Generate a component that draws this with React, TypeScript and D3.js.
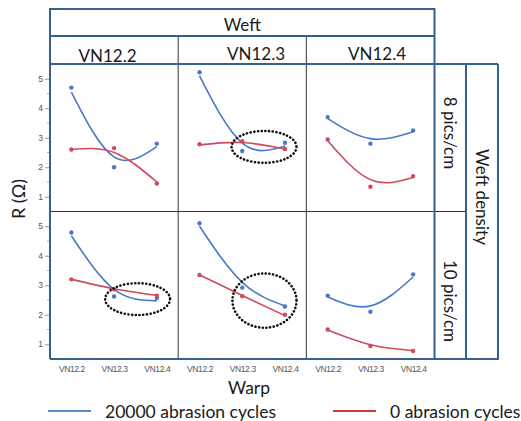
import { useEffect, useRef } from 'react';
import * as d3 from 'd3';

const warp = ['VN12.2', 'VN12.3', 'VN12.4'];
const weftCols = ['VN12.2', 'VN12.3', 'VN12.4'];
const densityRows = ['8 pics/cm', '10 pics/cm'];
const yTicks = [1, 2, 3, 4, 5];
const yMinor = [1.5, 2.5, 3.5, 4.5];

// means (dots) and fitted curve values, [row][col][warp]
const blueMean = [
  [[4.7, 2.0, 2.8], [5.22, 2.55, 2.83], [3.7, 2.8, 3.25]],
  [[4.79, 2.62, 2.57], [5.1, 2.92, 2.28], [2.65, 2.1, 3.37]],
];
const blueFit = [
  [[4.55, 2.35, 2.7], [5.1, 2.82, 2.72], [3.65, 2.97, 3.2]],
  [[4.68, 2.86, 2.47], [5.0, 3.1, 2.3], [2.6, 2.3, 3.28]],
];
const redMean = [
  [[2.6, 2.65, 1.45], [2.78, 2.88, 2.62], [2.94, 1.34, 1.7]],
  [[3.2, 2.86, 2.65], [3.35, 2.63, 2.0], [1.5, 0.94, 0.77]],
];
const redFit = [
  [[2.6, 2.5, 1.5], [2.76, 2.84, 2.62], [2.9, 1.58, 1.65]],
  [[3.2, 2.88, 2.65], [3.35, 2.65, 1.97], [1.48, 0.98, 0.78]],
];

// dotted highlight ellipses: panel, centre (warp index, value), radii (index, value)
const ellipses = [
  { row: 0, col: 1, cx: 1.51, cy: 2.69, rx: 0.76, ry: 0.54 },
  { row: 1, col: 0, cx: 1.55, cy: 2.53, rx: 0.76, ry: 0.54 },
  { row: 1, col: 1, cx: 1.52, cy: 2.48, rx: 0.75, ry: 0.92 },
];

const seriesLabels = ['20000 abrasion cycles', '0 abrasion cycles'];

const BLUE = '#4a78c6';
const RED = '#cf4a5c';
const FRAME = '#35608f';
const FONT = 'Lato, "Open Sans", sans-serif';

export default function App() {
  const svgRef = useRef<SVGSVGElement>(null);

  useEffect(() => {
    if (!svgRef.current) return;
    const svg = d3.select(svgRef.current);
    svg.selectAll('*').remove();

    const left = 50;
    const right = 434.5;
    const top = 9;
    const headY = 36;
    const panelTop = 64;
    const rowH = 147.5;
    const colW = (right - left) / 3;
    const bottom = panelTop + rowH * 2;
    const stripMid = 466;
    const stripRight = 498;

    const x = d3.scalePoint().domain(warp).range([0, colW]).padding(0.5);
    const xi = d3.scaleLinear().domain([0, 2]).range([x(warp[0])!, x(warp[2])!]);
    const y = d3.scaleLinear().domain([0.5, 5.5]).range([rowH, 0]);
    const line = d3
      .line<number>()
      .x((_, i) => x(warp[i])!)
      .y((d) => y(d))
      .curve(d3.curveNatural);

    // panels
    densityRows.forEach((_, r) => {
      weftCols.forEach((__, c) => {
        const g = svg
          .append('g')
          .attr('transform', `translate(${left + c * colW},${panelTop + r * rowH})`);

        const series = [
          { mean: blueMean[r][c], fit: blueFit[r][c], color: BLUE },
          { mean: redMean[r][c], fit: redFit[r][c], color: RED },
        ];
        series.forEach((s) => {
          g.append('path')
            .attr('d', line(s.fit))
            .attr('fill', 'none')
            .attr('stroke', s.color)
            .attr('stroke-width', 1.6);
          g.selectAll(null)
            .data(s.mean)
            .join('circle')
            .attr('cx', (_, i) => x(warp[i])!)
            .attr('cy', (d) => y(d))
            .attr('r', 2.2)
            .attr('fill', s.color);
        });

        ellipses
          .filter((e) => e.row === r && e.col === c)
          .forEach((e) => {
            g.append('ellipse')
              .attr('cx', xi(e.cx))
              .attr('cy', y(e.cy))
              .attr('rx', xi(e.rx) - xi(0))
              .attr('ry', y(0) - y(e.ry))
              .attr('fill', 'none')
              .attr('stroke', '#111')
              .attr('stroke-width', 2.6)
              .attr('stroke-linecap', 'round')
              .attr('stroke-dasharray', '0.1 3.6');
          });

        // x tick labels on the bottom row
        if (r === 1) {
          g.append('g')
            .attr('transform', `translate(0,${rowH})`)
            .call(d3.axisBottom(x).tickSize(0).tickPadding(7))
            .call((a) => a.select('.domain').remove())
            .selectAll('text')
            .attr('fill', '#555')
            .attr('font-size', 8.5)
            .attr('font-family', '"Liberation Sans", sans-serif')
            .attr('letter-spacing', -0.4);
        }
      });

      // y axis for the row
      const ya = svg.append('g').attr('transform', `translate(${left - 1},${panelTop + r * rowH})`);
      ya.call(
        d3.axisLeft(y).tickValues(yTicks).tickFormat(d3.format('d')).tickSize(4).tickPadding(2)
      )
        .call((a) => a.select('.domain').remove())
        .call((a) => a.selectAll('line').attr('stroke', '#999'))
        .selectAll('text')
        .attr('fill', '#555')
        .attr('font-size', 8.5)
        .attr('font-family', '"Liberation Sans", sans-serif');
      ya.selectAll('line.minor')
        .data(yMinor)
        .join('line')
        .attr('class', 'minor')
        .attr('x1', -2)
        .attr('x2', 0)
        .attr('y1', (d) => y(d))
        .attr('y2', (d) => y(d))
        .attr('stroke', '#aaa');
    });

    // thin inner dividers
    const thin = svg.append('g').attr('stroke', '#333').attr('stroke-width', 1);
    [1, 2].forEach((i) => {
      thin.append('line')
        .attr('x1', left + i * colW).attr('x2', left + i * colW)
        .attr('y1', headY).attr('y2', bottom);
    });
    thin.append('line')
      .attr('x1', left).attr('x2', stripMid)
      .attr('y1', panelTop + rowH).attr('y2', panelTop + rowH);

    // frame
    const frame = svg.append('g').attr('stroke', FRAME).attr('stroke-width', 2).attr('fill', 'none');
    frame.append('path').attr('d', `M${left},${bottom}V${top}H${right}V${bottom}`);
    frame.append('line').attr('x1', left).attr('x2', right).attr('y1', headY).attr('y2', headY);
    frame.append('line').attr('x1', left).attr('x2', stripRight).attr('y1', panelTop).attr('y2', panelTop);
    frame.append('path').attr('d', `M${stripRight},${panelTop}V${bottom}H${left}`);
    frame.append('line').attr('x1', stripMid).attr('x2', stripMid).attr('y1', panelTop).attr('y2', bottom);

    const text = (tx: number, ty: number, s: string, size: number, rot = 0) =>
      svg
        .append('text')
        .attr('transform', `translate(${tx},${ty}) rotate(${rot})`)
        .attr('text-anchor', 'middle')
        .attr('dominant-baseline', 'central')
        .attr('font-family', FONT)
        .attr('font-size', size)
        .attr('fill', '#1a1a1a')
        .text(s);

    text((left + right) / 2, 24, 'Weft', 17);
    const headX = [107.5, 256, 377];
    const headYs = [55, 53.5, 53.5];
    weftCols.forEach((w, i) => text(headX[i], headYs[i], w, 17));

    const stripX = (right + stripMid) / 2;
    text(stripX, 133, densityRows[0], 17, 90);
    text(stripX, 301, densityRows[1], 17, 90);
    text((stripMid + stripRight) / 2, 197, 'Weft density', 17, 90);

    text(18, 199, 'R (Ω)', 18, -90);
    text(249, 387, 'Warp', 17.5);

    // legend
    const legend = [
      { x: 48, color: '#5a8bcb', label: seriesLabels[0] },
      { x: 333, color: '#d03a3a', label: seriesLabels[1] },
    ];
    legend.forEach((l) => {
      svg.append('line')
        .attr('x1', l.x).attr('x2', l.x + 43)
        .attr('y1', 411).attr('y2', 411)
        .attr('stroke', l.color).attr('stroke-width', 2);
      svg.append('text')
        .attr('x', l.x + 57)
        .attr('y', 411)
        .attr('dominant-baseline', 'central')
        .attr('font-family', FONT)
        .attr('font-size', 17.5)
        .attr('fill', '#1a1a1a')
        .text(l.label);
    });
  }, []);

  return (
    <svg
      ref={svgRef}
      width={521}
      height={421}
      style={{ position: 'absolute', left: 0, top: 0, background: '#fff' }}
    />
  );
}
